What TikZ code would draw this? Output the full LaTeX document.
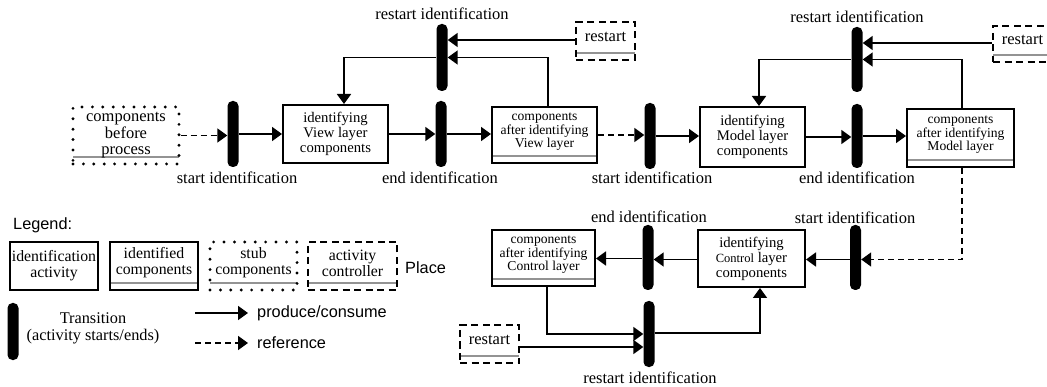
\documentclass[tikz,border=0pt]{standalone}
\usepackage{fontspec}
\setmainfont{Liberation Serif}
\newfontfamily\arialfont{Liberation Sans}
\usetikzlibrary{arrows.meta}
\begin{document}
\begin{tikzpicture}[x=1pt,y=-1pt,
  trans/.style={rectangle, fill=black, rounded corners=5pt, minimum width=11pt, inner sep=0pt},
  grayline/.style={path picture={\draw[gray!85, solid, line cap=butt, line width=1.4pt] ([yshift=7pt]path picture bounding box.south west) -- ([yshift=7pt]path picture bounding box.south east);}},
  actbox/.style={rectangle, draw, line width=2pt, inner sep=1pt, align=center, font=\fontsize{14.7}{15}\selectfont},
  placebox/.style={rectangle, draw, line width=2pt, inner sep=0pt, grayline},
  stubbox/.style={rectangle, draw, line width=3.2pt, dash pattern=on 0pt off 10.4pt, line cap=round, inner sep=0pt, grayline},
  ctrlbox/.style={rectangle, draw, line width=1.8pt, dash pattern=on 7pt off 4.5pt, inner sep=0pt, grayline},
  smalltext/.style={align=center, inner sep=0pt, font=\fontsize{13.6}{13.5}\selectfont},
  bigtext/.style={align=center, inner sep=0pt, font=\fontsize{16.5}{16.5}\selectfont},
  legtext/.style={align=center, inner sep=0pt, font=\fontsize{15.8}{16}\selectfont},
  lab/.style={inner sep=0pt, font=\fontsize{16.5}{18}\selectfont},
  sans/.style={inner sep=0pt, font=\arialfont\fontsize{16.3}{18}\selectfont},
  arr/.style={line width=1.8pt, -{Triangle[length=10pt,width=14pt]}},
  refarr/.style={arr, dash pattern=on 6pt off 4pt},
]
\clip (0,0) rectangle (1047,387);
\fill[white] (0,0) rectangle (1047,387);

% ---------- top row: View layer ----------
\node[stubbox, minimum width=106pt, minimum height=57pt] (cbp) at (126,135.5) {};
\node[bigtext] (cbpt) at (cbp.center) {components\\before\\process};
\node[trans, minimum height=66pt] (T1) at (233,134) {};
\node[actbox, minimum width=105pt, minimum height=58pt] (IV) at (335.5,134) {identifying\\View layer\\components};
\node[trans, minimum height=66pt] (T2) at (441,134) {};
\node[placebox, minimum width=105pt, minimum height=56pt] (CV) at (544.5,135) {};
\node[smalltext] (CVt) at ([yshift=3pt]CV.center) {components\\after identifying\\View layer};
\node[trans, minimum height=67pt] (Tr1) at (442,57.5) {};
\node[ctrlbox, minimum width=59pt, minimum height=38pt] (R1) at (605.5,41) {};
\node[lab] (R1t) at ([yshift=4pt]R1.center) {restart};

% ---------- top row: Model layer ----------
\node[trans, minimum height=66pt] (T3) at (650,136) {};
\node[actbox, minimum width=105pt, minimum height=60pt] (IM) at (752.5,137) {identifying\\Model layer\\components};
\node[trans, minimum height=64pt] (T4) at (857,136) {};
\node[placebox, minimum width=107pt, minimum height=58pt] (CM) at (960.5,138) {};
\node[smalltext] (CMt) at ([yshift=3pt]CM.center) {components\\after identifying\\Model layer};
\node[trans, minimum height=65pt] (Tr2) at (857,59.5) {};
\node[ctrlbox, minimum width=59pt, minimum height=36pt] (R2) at (1022.5,44) {};
\node[lab] (R2t) at ([yshift=4pt]R2.center) {restart};

% ---------- bottom row: Control layer ----------
\node[trans, minimum height=65pt] (T5) at (855.5,257.5) {};
\node[actbox, minimum width=107pt, minimum height=57pt] (IC) at (751.5,258.5) {identifying\\{\fontsize{12.5}{15}\selectfont Control} layer\\components};
\node[trans, minimum height=65pt] (T6) at (648,257.5) {};
\node[placebox, minimum width=103pt, minimum height=56pt] (CC) at (543.5,258) {};
\node[smalltext] (CCt) at ([yshift=3pt]CC.center) {components\\after identifying\\Control layer};
\node[trans, minimum height=66pt] (T7) at (649,334) {};
\node[ctrlbox, minimum width=59pt, minimum height=38pt] (R3) at (489.5,344) {};
\node[lab] (R3t) at ([yshift=4pt]R3.center) {restart};

% ---------- transition labels ----------
\node[lab] at (237,178) {start identification};
\node[lab] at (440,178) {end identification};
\node[lab] at (652,178) {start identification};
\node[lab] at (857,178) {end identification};
\node[lab] at (442,14) {restart identification};
\node[lab] at (857,17) {restart identification};
\node[lab] at (649,217) {end identification};
\node[lab] at (855,218) {start identification};
\node[lab] at (650,378) {restart identification};

% ---------- connectors ----------
\draw[refarr] (cbp.east) -- (cbp.east -| T1.west);
\draw[arr] (T1.east) -- (T1.east -| IV.west);
\draw[arr] (IV.east) -- (IV.east -| T2.west);
\draw[arr] (T2.east) -- (T2.east -| CV.west);
\draw[refarr] (CV.east) -- (CV.east -| T3.west);
\draw[arr] (T3.east) -- (T3.east -| IM.west);
\draw[arr] (IM.east) -- (IM.east -| T4.west);
\draw[arr] (T4.east) -- (T4.east -| CM.west);
\draw[arr] ([yshift=1pt]R1.west) -- ([yshift=1pt]R1.west -| Tr1.east);
\draw[arr] ([xshift=3.5pt]CV.north) |- (Tr1.east);
\draw[arr] (Tr1.west) -| ([xshift=8.5pt]IV.north);
\draw[arr] ([yshift=1pt]R2.west) -- ([yshift=1pt]R2.west -| Tr2.east);
\draw[arr] ([xshift=1.5pt]CM.north) |- (Tr2.east);
\draw[arr] (Tr2.west) -| ([xshift=6.5pt]IM.north);
\draw[refarr] ([xshift=1.5pt]CM.south) |- ([yshift=-2pt]T5.east);
\draw[arr] ([yshift=-2pt]T5.west) -- ([yshift=-2pt]T5.west -| IC.east);
\draw[arr] ([yshift=-1pt]IC.west) -- ([yshift=-1pt]IC.west -| T6.east);
\draw[arr] ([yshift=-1pt]T6.west) -- ([yshift=-1pt]T6.west -| CC.east);
\draw[arr] ([xshift=3.5pt]CC.south) |- (T7.west);
\draw[arr] ([yshift=-3pt]R3.east) -- ([yshift=-3pt]R3.east -| T7.west);
\draw[arr] ([yshift=1pt]T7.east) -| ([xshift=8.5pt]IC.south);

% ---------- legend ----------
\node[sans, anchor=west] (leg) at (13,225) {Legend:};
\node[actbox, minimum width=88pt, minimum height=48pt, font=\fontsize{15.8}{16}\selectfont] (L1) at (54,266) {identification\\activity};
\node[placebox, minimum width=88pt, minimum height=48pt] (L2) at (154,266) {};
\node[legtext] (L2t) at ([yshift=3pt]L2.center) {identified\\components};
\node[stubbox, minimum width=87pt, minimum height=48pt] (L3) at (253.5,266) {};
\node[legtext] (L3t) at ([yshift=3pt]L3.center) {stub\\components};
\node[ctrlbox, minimum width=89pt, minimum height=48pt] (L4) at (352.5,266) {};
\node[legtext] (L4t) at ([yshift=3pt]L4.center) {activity\\controller};
\node[sans, anchor=west] (place) at (405,268) {Place};
\node[trans, minimum height=57pt] (LT) at (13,331.5) {};
\node[legtext, font=\fontsize{16.3}{17}\selectfont] (LTt) at (93,328) {Transition\\(activity starts/ends)};
\coordinate (pa) at (195,313);
\node[sans, anchor=west] (pc) at (257,313) {produce/consume};
\draw[arr] (pa) -- ([xshift=-9pt]pc.west);
\coordinate (ra) at (195,343);
\node[sans, anchor=west] (rf) at (257,343) {reference};
\draw[refarr] (ra) -- ([xshift=-9pt]rf.west);
\end{tikzpicture}
\end{document}
